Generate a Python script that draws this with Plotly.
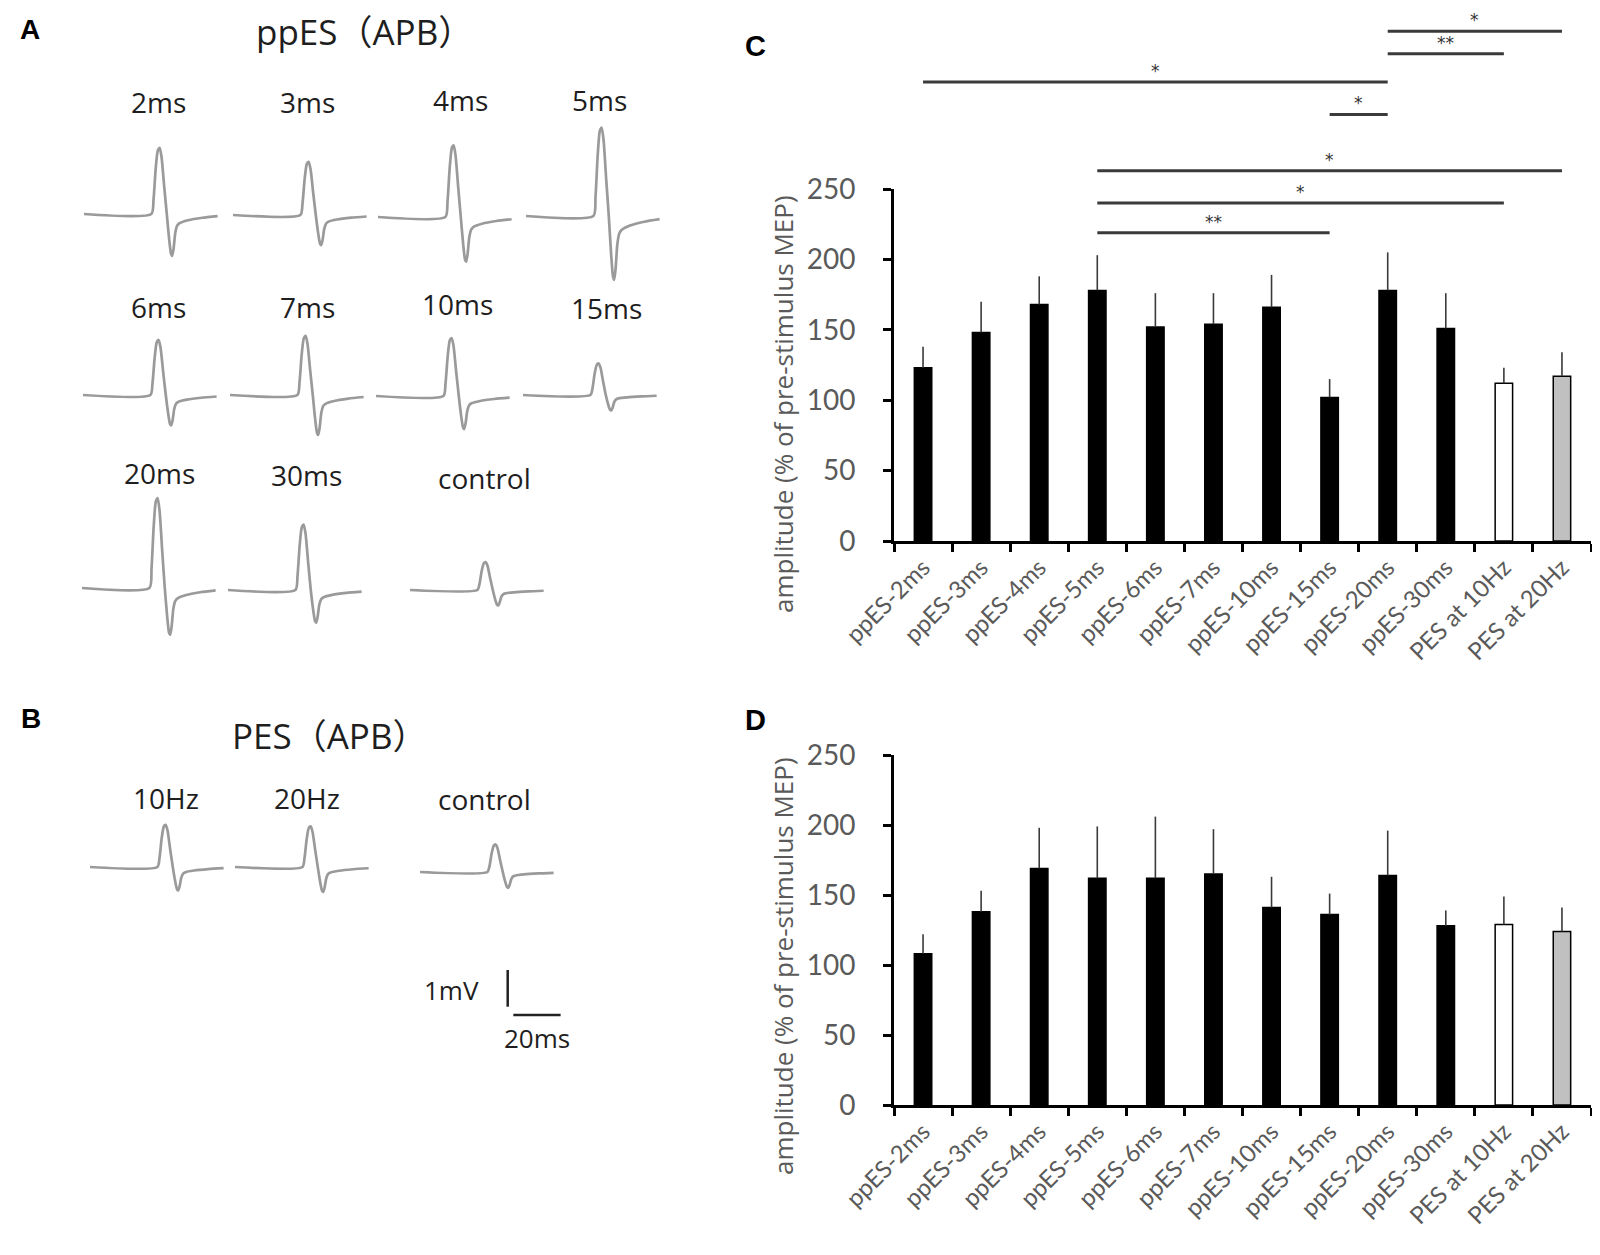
import plotly.graph_objects as go

# ---------------- data ----------------
CATEGORIES = ["ppES-2ms", "ppES-3ms", "ppES-4ms", "ppES-5ms", "ppES-6ms", "ppES-7ms",
              "ppES-10ms", "ppES-15ms", "ppES-20ms", "ppES-30ms", "PES at 10Hz", "PES at 20Hz"]
C_MEAN = [123, 148, 168, 178, 152, 154, 166, 102, 178, 151, 112, 117]
C_SEM = [15, 22, 20, 25, 24, 22, 23, 13, 27, 25, 11, 17]
D_MEAN = [108, 138, 169, 162, 162, 165, 141, 136, 164, 128, 129, 124]
D_SEM = [14, 15, 29, 37, 44, 32, 22, 15, 32, 11, 20, 17]
BAR_COLORS = ["#000000"] * 10 + ["#ffffff", "#c0c0c0"]
Y_TICKS = [0, 50, 100, 150, 200, 250]
Y_TITLE = "amplitude (% of pre-stimulus MEP)"

# significant comparisons in panel C (category index pairs)
SIG_FROM = [8, 8, 0, 7, 3, 3, 3]
SIG_TO = [11, 10, 8, 8, 11, 10, 7]
SIG_LABEL = ["*", "**", "*", "*", "*", "*", "**"]

# MEP example traces (amplitudes in mV)
PPES_LABELS = ["2ms", "3ms", "4ms", "5ms", "6ms", "7ms", "10ms", "15ms", "20ms", "30ms", "control"]
PPES_PEAK_MV = [1.80, 1.45, 1.95, 2.41, 1.50, 1.61, 1.58, 0.86, 2.45, 1.78, 0.76]
PPES_TROUGH_MV = [1.14, 0.82, 1.22, 1.74, 0.83, 1.09, 0.90, 0.42, 1.28, 0.89, 0.42]
PES_LABELS = ["10Hz", "20Hz", "control"]
PES_PEAK_MV = [1.15, 1.11, 0.75]
PES_TROUGH_MV = [0.64, 0.68, 0.43]

# MEP waveform outline (time in ms, normalised deflection)
MEP_T_MS = [0, 28.5, 29.4, 30.3, 31.2, 32.0, 32.8, 33.9, 35.0, 36.0, 36.8, 37.3, 37.9,
            38.6, 39.4, 40.4, 44.0, 50.0, 56.5]
MEP_SHAPE = [0, 0, 0.22, 0.68, 0.96, 1.0, 0.86, 0.42, 0.0, -0.6, -0.95, -1.0, -0.82,
             -0.45, -0.28, -0.22, -0.15, -0.09, -0.05]

SCALE_MV = 1
SCALE_MS = 20

# ---------------- layout constants (pixels of the 1600x1255 page) ----------------
PAGE_W, PAGE_H = 1600, 1255
OFF = 8                       # default page margin around the figure
W, H = PAGE_W - OFF, PAGE_H - OFF


def xp(px):
    return (px - OFF) / W


def yp(py):
    return 1 - (py - OFF) / H


C_AX_X0, C_AX_X1 = 894, 1591
C_Y0_PX, C_Y250_PX = 541, 189
D_Y0_PX, D_Y250_PX = 1105, 755
SIG_LEVEL = [362, 346, 326, 303, 263, 240, 219]

PX_PER_MS = 47.3 / 20
PX_PER_MV = 36.7
WAVE_R_PX = 728
PPES_START_PX = [84, 233, 378, 526, 83, 230, 376, 523, 82, 228, 410]
PPES_BASE_PX = [214, 215, 217, 216, 395, 395, 396, 395, 588, 590, 590]
PPES_LABEL_XY = [(158, 102), (307, 102), (460, 100), (599, 100), (158, 307), (307, 307),
                 (457, 304), (606, 308), (159, 473), (306, 475), (484, 478)]
PES_START_PX = [90, 235, 420]
PES_BASE_PX = [867, 867, 872]
PES_LABEL_XY = [(166, 798), (307, 798), (484, 799)]

GRAY_TXT = "#5a5a5a"
TICK_FONT = dict(family="Lato", size=28, color=GRAY_TXT)
XTICK_FONT = dict(family="Lato", size=24, color=GRAY_TXT)
SKETCH_FONT = "Open Sans, Noto Sans CJK JP"
WAVE_COLOR = "#9a9a9a"

fig = go.Figure()

# ---------------- bar charts C and D ----------------
for mean, sem, xa, ya in [(C_MEAN, C_SEM, "x", "y"), (D_MEAN, D_SEM, "x2", "y2")]:
    fig.add_trace(go.Bar(
        x=CATEGORIES, y=mean, width=0.3,
        marker=dict(color=BAR_COLORS, line=dict(color="#000000", width=1.5)),
        error_y=dict(type="data", array=sem, arrayminus=[0] * len(sem), symmetric=False,
                     color="#3a3a3a", thickness=1.6, width=0),
        xaxis=xa, yaxis=ya, showlegend=False, hoverinfo="skip"))

# significance brackets on an overlay axis extending above panel C
for i, j, lab, h in zip(SIG_FROM, SIG_TO, SIG_LABEL, SIG_LEVEL):
    fig.add_trace(go.Scatter(
        x=[CATEGORIES[i], CATEGORIES[j]], y=[h, h], mode="lines",
        line=dict(color="#3a3a3a", width=3), xaxis="x3", yaxis="y3",
        showlegend=False, hoverinfo="skip"))
    fig.add_annotation(x=(i + j) / 2, y=h, xref="x3", yref="y3", text=lab,
                       showarrow=False, yanchor="middle", yshift=11, borderpad=0,
                       font=dict(family="DejaVu Sans", size=17, color="#333333"))

# ---------------- MEP traces (panels A and B) ----------------
def add_wave(start_px, base_px, peak, trough):
    x0 = start_px / PX_PER_MS
    b0 = -base_px / PX_PER_MV
    xs = [x0 + t for t in MEP_T_MS]
    ys = [b0 + (peak * s if s > 0 else trough * s) for s in MEP_SHAPE]
    fig.add_trace(go.Scatter(x=xs, y=ys, mode="lines",
                             line=dict(color=WAVE_COLOR, width=2.7, shape="spline", smoothing=0.6),
                             xaxis="x4", yaxis="y4", showlegend=False, hoverinfo="skip"))


for s, b, pk, tr in zip(PPES_START_PX, PPES_BASE_PX, PPES_PEAK_MV, PPES_TROUGH_MV):
    add_wave(s, b, pk, tr)
for s, b, pk, tr in zip(PES_START_PX, PES_BASE_PX, PES_PEAK_MV, PES_TROUGH_MV):
    add_wave(s, b, pk, tr)

# scale bar
sb_x = 507.7 / PX_PER_MS
sb_y = -1006.7 / PX_PER_MV
fig.add_trace(go.Scatter(x=[sb_x, sb_x], y=[sb_y, sb_y + SCALE_MV], mode="lines",
                         line=dict(color="#222222", width=2.5), xaxis="x4", yaxis="y4",
                         showlegend=False, hoverinfo="skip"))
hb_x = 513.3 / PX_PER_MS
hb_y = -1015 / PX_PER_MV
fig.add_trace(go.Scatter(x=[hb_x, hb_x + SCALE_MS], y=[hb_y, hb_y], mode="lines",
                         line=dict(color="#222222", width=2.5), xaxis="x4", yaxis="y4",
                         showlegend=False, hoverinfo="skip"))

# ---------------- text ----------------
def txt(x, y, s, size, family=SKETCH_FONT, color="#1e1e1e", bold=False, **kw):
    fig.add_annotation(x=xp(x), y=yp(y), xref="paper", yref="paper",
                       text=f"<b>{s}</b>" if bold else s, showarrow=False,
                       xanchor="center", yanchor="middle",
                       font=dict(family=family, size=size, color=color), **kw)


for lab, (x, y) in zip(PPES_LABELS, PPES_LABEL_XY):
    txt(x, y, lab, 28)
for lab, (x, y) in zip(PES_LABELS, PES_LABEL_XY):
    txt(x, y, lab, 28)
txt(364, 31, "ppES（APB）", 35)
txt(330, 735, "PES（APB）", 35)
txt(451, 990, f"{SCALE_MV}mV", 26)
txt(537, 1038, f"{SCALE_MS}ms", 26)

for lab, (x, y) in zip(["A", "B"], [(30, 29), (31, 718)]):
    txt(x, y, lab, 28, family="Liberation Sans", color="#000000", bold=True)
for lab, (x, y) in zip(["C", "D"], [(755, 46), (755, 720)]):
    txt(x, y, lab, 29, family="Liberation Sans Narrow, Liberation Sans", color="#000000",
        bold=True)

txt(783, 404, Y_TITLE, 26, family="Open Sans", color=GRAY_TXT, textangle=-90)
txt(783, 966, Y_TITLE, 26, family="Open Sans", color=GRAY_TXT, textangle=-90)

# ---------------- axes ----------------
xcommon = dict(type="category", categoryorder="array", categoryarray=CATEGORIES,
               range=[-0.5, len(CATEGORIES) - 0.5], domain=[xp(C_AX_X0), xp(C_AX_X1)],
               automargin=False)
xbar = dict(xcommon, tickson="boundaries", ticks="outside", ticklen=8, tickwidth=2.5,
            tickcolor="#000000", showline=True, linecolor="#000000", linewidth=3,
            tickangle=-45, tickfont=XTICK_FONT, showgrid=False, zeroline=False)
ybar = dict(range=[0, 250], tickvals=Y_TICKS, ticks="outside", ticklen=8, tickwidth=2.5,
            tickcolor="#000000", showline=True, linecolor="#000000", linewidth=3,
            tickfont=TICK_FONT, showgrid=False, zeroline=False, ticklabelstandoff=22,
            automargin=False)

c_ext_top = 250 * (C_Y0_PX - OFF) / (C_Y0_PX - C_Y250_PX)

fig.update_layout(
    template="none",
    width=W, height=H,
    margin=dict(l=0, r=0, t=0, b=0, pad=0, autoexpand=False),
    paper_bgcolor="#ffffff", plot_bgcolor="rgba(0,0,0,0)",
    showlegend=False,
    xaxis=dict(xbar, anchor="y"),
    yaxis=dict(ybar, anchor="x", domain=[yp(C_Y0_PX), yp(C_Y250_PX)]),
    xaxis2=dict(xbar, anchor="y2"),
    yaxis2=dict(ybar, anchor="x2", domain=[yp(D_Y0_PX), yp(D_Y250_PX)]),
    xaxis3=dict(xcommon, anchor="y3", visible=False),
    yaxis3=dict(range=[0, c_ext_top], domain=[yp(C_Y0_PX), 1.0], anchor="x3", visible=False,
                automargin=False),
    xaxis4=dict(range=[OFF / PX_PER_MS, WAVE_R_PX / PX_PER_MS], domain=[0, xp(WAVE_R_PX)],
                anchor="y4", visible=False, automargin=False),
    yaxis4=dict(range=[-PAGE_H / PX_PER_MV, -OFF / PX_PER_MV], domain=[0, 1], anchor="x4",
                visible=False, automargin=False),
    bargap=0.7,
)

fig.write_html("out.html")
